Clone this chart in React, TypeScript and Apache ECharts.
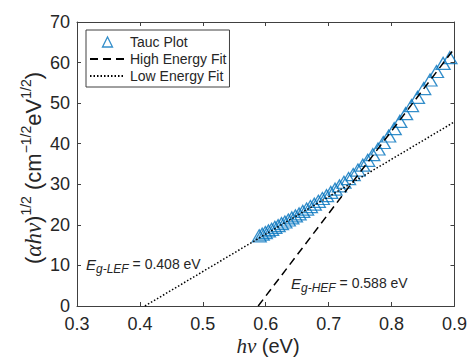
import React, { useEffect, useRef } from 'react';
import * as echarts from 'echarts';

// Tauc plot data (photon energy in eV, (alpha h nu)^1/2)
const taucX = [
  0.5896, 0.5944, 0.5993, 0.6043, 0.6093, 0.6145, 0.6197, 0.625, 0.6304, 0.6359,
  0.6415, 0.6472, 0.653, 0.6589, 0.6649, 0.671, 0.6772, 0.6836, 0.69, 0.6966,
  0.7034, 0.7102, 0.7172, 0.7243, 0.7316, 0.739, 0.7465, 0.7543, 0.7621, 0.7702,
  0.7784, 0.7868, 0.7954, 0.8042, 0.8131, 0.8223, 0.8317, 0.8412, 0.8511, 0.8611,
  0.8714, 0.8819, 0.8927,
];
const taucY = [
  17.3, 17.7, 18.1, 18.5, 18.9, 19.4, 19.8, 20.3, 20.7, 21.2,
  21.7, 22.2, 22.7, 23.3, 23.9, 24.5, 25.1, 25.8, 26.5, 27.2,
  28.0, 28.8, 29.6, 30.5, 31.4, 32.4, 33.5, 34.7, 35.9, 37.3,
  38.7, 40.3, 41.9, 43.7, 45.5, 47.4, 49.4, 51.4, 53.6, 55.7,
  57.8, 59.8, 61.2,
];
const highFitX = [0.588, 0.9];
const highFitY = [0, 63.5];
const lowFitX = [0.408, 0.9];
const lowFitY = [0, 45.4];
const seriesNames = ['Tauc Plot', 'High Energy Fit', 'Low Energy Fit'];
const lefLabel = ['g-LEF', ' = 0.408 eV'];
const hefLabel = ['g-HEF', ' = 0.588 eV'];

const SANS = 'Liberation Sans, Arial, Helvetica, sans-serif';
const SERIF = 'Liberation Serif, Times New Roman, serif';
const AX = '#262626';
const TRI = 'path://M0,10L5,0L10,10Z';

export default function App() {
  const ref = useRef<HTMLDivElement>(null);
  useEffect(() => {
    if (!ref.current) return;
    const chart = echarts.init(ref.current, null, { renderer: 'svg' });
    const pair = (xs: number[], ys: number[]) => xs.map((x, i) => [x, ys[i]]);
    const xCommon = {
      type: 'value' as const,
      min: 0.3,
      max: 0.9,
      interval: 0.1,
      axisLine: { show: true, onZero: false, lineStyle: { color: '#404040', width: 1 } },
      axisTick: { show: true, inside: true, length: 4, lineStyle: { color: '#404040' } },
      splitLine: { show: false },
    };
    const yCommon = {
      type: 'value' as const,
      min: 0,
      max: 70,
      interval: 10,
      axisLine: { show: true, onZero: false, lineStyle: { color: '#404040', width: 1 } },
      axisTick: { show: true, inside: true, length: 4, lineStyle: { color: '#404040' } },
      splitLine: { show: false },
    };
    chart.setOption({
      animation: false,
      backgroundColor: '#ffffff',
      grid: { left: 77, top: 22, width: 380, height: 284, containLabel: false },
      xAxis: [
        {
          ...xCommon,
          position: 'bottom',
          axisLabel: {
            show: true,
            fontSize: 18,
            fontFamily: SANS,
            color: AX,
            margin: 9,
            formatter: (v: number) => v.toFixed(1),
          },
        },
        { ...xCommon, position: 'top', axisLabel: { show: false } },
      ],
      yAxis: [
        {
          ...yCommon,
          position: 'left',
          axisLabel: { show: true, fontSize: 18, fontFamily: SANS, color: AX, margin: 7 },
        },
        { ...yCommon, position: 'right', axisLabel: { show: false } },
      ],
      legend: {
        show: true,
        orient: 'vertical',
        left: 86,
        top: 30,
        backgroundColor: '#ffffff',
        borderColor: '#404040',
        borderWidth: 1,
        borderRadius: 0,
        padding: [4, 3, 3, 3],
        itemGap: 1,
        itemWidth: 35,
        itemHeight: 10,
        textStyle: { fontSize: 14, fontFamily: SANS, color: AX, lineHeight: 16 },
        data: [
          {
            name: seriesNames[0],
            icon: TRI,
            itemStyle: { color: 'rgba(0,0,0,0)', borderColor: '#0072BD', borderWidth: 1.3 },
          },
          { name: seriesNames[1], itemStyle: { opacity: 0 } },
          { name: seriesNames[2], itemStyle: { opacity: 0 } },
        ],
      },
      series: [
        {
          name: seriesNames[0],
          type: 'scatter',
          xAxisIndex: 0,
          yAxisIndex: 0,
          symbol: 'triangle',
          symbolSize: [14, 12],
          itemStyle: { color: 'rgba(0,0,0,0)', borderColor: '#0072BD', borderWidth: 1.3 },
          data: pair(taucX, taucY),
          z: 2,
        },
        {
          name: seriesNames[1],
          type: 'line',
          symbol: 'none',
          xAxisIndex: 0,
          yAxisIndex: 0,
          lineStyle: { color: '#000000', width: 1.5, type: [8, 5] },
          itemStyle: { color: '#000000' },
          data: pair(highFitX, highFitY),
          z: 3,
        },
        {
          name: seriesNames[2],
          type: 'line',
          symbol: 'none',
          xAxisIndex: 0,
          yAxisIndex: 0,
          lineStyle: { color: '#000000', width: 1.5, type: [1.5, 2] },
          itemStyle: { color: '#000000' },
          data: pair(lowFitX, lowFitY),
          z: 3,
        },
      ],
      graphic: [
        {
          type: 'text',
          x: 33,
          y: 168,
          rotation: Math.PI / 2,
          style: {
            text: '{m|(}{i|αhν}{m|)}{s|1/2}{m| (cm}{s|−1/2}{m|eV}{s|1/2}{m|)}',
            align: 'center',
            verticalAlign: 'middle',
            fill: AX,
            rich: {
              m: { fontSize: 22, fontFamily: SANS, fill: AX },
              i: { fontSize: 23, fontFamily: SERIF, fontStyle: 'italic', fill: AX },
              s: { fontSize: 14, fontFamily: SANS, fill: AX, padding: [0, 0, 15, 0] },
            },
          },
        },
        {
          type: 'text',
          x: 268,
          y: 346,
          style: {
            text: '{i|hν}{m| (eV)}',
            align: 'center',
            verticalAlign: 'middle',
            fill: AX,
            rich: {
              m: { fontSize: 20, fontFamily: SANS, fill: AX },
              i: { fontSize: 21, fontFamily: SERIF, fontStyle: 'italic', fill: AX },
            },
          },
        },
        {
          type: 'text',
          x: 86,
          y: 264,
          style: {
            text: '{e|E}{sub|' + lefLabel[0] + '}{t|' + lefLabel[1] + '}',
            align: 'left',
            verticalAlign: 'middle',
            fill: AX,
            rich: {
              e: { fontSize: 15, fontFamily: SANS, fontStyle: 'italic', fill: AX },
              sub: { fontSize: 12, fontFamily: SANS, fontStyle: 'italic', fill: AX, padding: [10, 0, 0, 0] },
              t: { fontSize: 14, fontFamily: SANS, fill: AX },
            },
          },
        },
        {
          type: 'text',
          x: 291,
          y: 283,
          style: {
            text: '{e|E}{sub|' + hefLabel[0] + '}{t|' + hefLabel[1] + '}',
            align: 'left',
            verticalAlign: 'middle',
            fill: AX,
            rich: {
              e: { fontSize: 15, fontFamily: SANS, fontStyle: 'italic', fill: AX },
              sub: { fontSize: 12, fontFamily: SANS, fontStyle: 'italic', fill: AX, padding: [10, 0, 0, 0] },
              t: { fontSize: 14, fontFamily: SANS, fill: AX },
            },
          },
        },
      ],
    });
    return () => chart.dispose();
  }, []);
  return (
    <div
      ref={ref}
      style={{ position: 'absolute', left: 0, top: 0, width: 470, height: 360 }}
    />
  );
}
